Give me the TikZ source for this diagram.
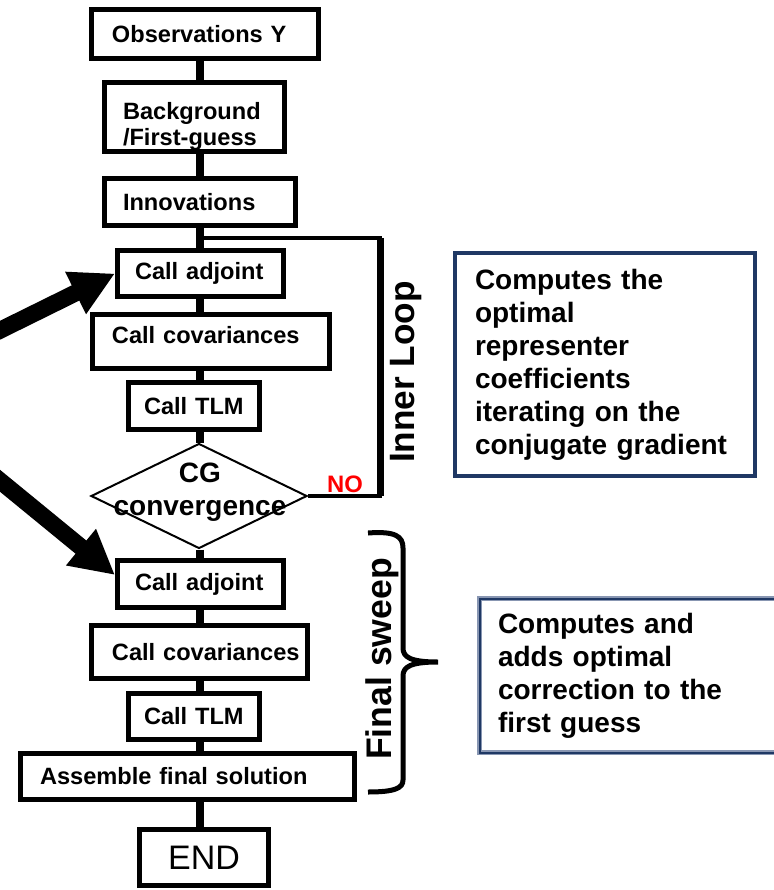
\documentclass[tikz,border=0pt]{standalone}
\usepackage{fontspec}
\setmainfont{Liberation Sans}
\usetikzlibrary{arrows.meta,shapes.geometric}

\definecolor{boxnavy}{RGB}{31,56,100}
\definecolor{boxsteel}{RGB}{136,150,178}

\begin{document}
\begin{tikzpicture}[x=0.5pt, y=-0.5pt,
        stepbox/.style={draw, line width=2.5pt, inner sep=0pt, align=left, font=\bfseries\fontsize{11.8}{14}\selectfont},
        decision/.style={diamond, draw, line width=1pt, inner sep=0pt, minimum width=108pt, minimum height=52.5pt},
        link/.style={line width=3.6pt},
        loopline/.style={line width=2.2pt},
        bigarrow/.style={line width=8.5pt, -{Triangle[length=22pt,width=22pt]}},
        notebox/.style={inner sep=0pt, align=left, font=\bfseries\fontsize{14}{16.5}\selectfont}]
        \path[use as bounding box, fill=white] (0,0) rectangle (774,890);
        \clip (0,0) rectangle (774,890);

        % Define the steps
        \node[stepbox, minimum width=113.5pt, minimum height=24.5pt, text width=93pt] (obs) at (205,34) {Observations Y};
        \node[stepbox, minimum width=90pt, minimum height=34.5pt, text width=71.5pt, text height=18pt, font=\bfseries\fontsize{11.8}{13}\selectfont] (bg) at (194.5,117) {Background\\/First-guess};
        \node[stepbox, minimum width=95.5pt, minimum height=23.5pt, text width=77pt] (innov) at (200,202) {Innovations};
        \node[stepbox, minimum width=83pt, minimum height=23pt, text width=65.5pt] (adj1) at (200.5,273.5) {Call adjoint};
        \node[stepbox, minimum width=118.5pt, minimum height=27pt, text width=99pt, text depth=6.5pt] (cov1) at (211,341.5) {Call covariances};
        \node[stepbox, minimum width=65.5pt, minimum height=23.5pt, text width=50pt] (tlm1) at (194,406) {Call TLM};
        \node[decision] (cg) at (199,496) {};
        \node[font=\bfseries\fontsize{14}{16.5}\selectfont, align=center] (cgtext) at (200,492) {CG\\convergence};
        \node[stepbox, minimum width=83pt, minimum height=23.5pt, text width=65.5pt] (adj2) at (200.5,584) {Call adjoint};
        \node[stepbox, minimum width=108pt, minimum height=26.5pt, text width=87.5pt] (cov2) at (199.5,652) {\mbox{Call covariances}};
        \node[stepbox, minimum width=65.5pt, minimum height=23pt, text width=50pt] (tlm2) at (194,716.5) {Call TLM};
        \node[stepbox, minimum width=167pt, minimum height=23pt, text width=147.5pt] (asm) at (187.5,776.5) {Assemble final solution};
        \node[stepbox, minimum width=64.5pt, minimum height=28pt, align=center, font=\fontsize{17}{20}\selectfont] (fin) at (204,857.5) {END};

        % Define the connections
        \coordinate (spine) at (200,0);
        \foreach \a/\b in {obs/bg, bg/innov, innov/adj1, adj1/cov1, cov1/tlm1, tlm1/cg, cg/adj2, adj2/cov2, cov2/tlm2, tlm2/asm, asm/fin}
            \draw[link] (spine |- \a.south) -- (spine |- \b.north);

        % Inner loop
        \coordinate (looptop) at (200,238);
        \coordinate (loopright) at (380,238);
        \draw[loopline] (looptop) -- (loopright) |- (cg.east);
        \draw[line width=3.5pt] (loopright) -- (loopright |- cg.east);
        \node[font=\bfseries\fontsize{11.9}{14}\selectfont, text=red] (no) at (345,484) {NO};
        \node[rotate=90, font=\bfseries\fontsize{17.6}{20}\selectfont] (inner) at (406,372) {Inner Loop};

        % Final sweep brace
        \draw[line width=2.5pt] (368,533) .. controls (395,531) and (403,536) .. (403,548) -- (403,648)
            .. controls (403,657) and (410,662) .. (438,662)
            .. controls (410,662) and (403,667) .. (403,676) -- (403,780)
            .. controls (403,788) and (395,792) .. (368,792);
        \node[rotate=90, font=\bfseries\fontsize{17.8}{20}\selectfont] (sweep) at (382,659) {Final sweep};

        % Big arrows from the left
        \coordinate (arrowA) at (-40,350);
        \coordinate (arrowB) at (-40,448);
        \draw[bigarrow] (arrowA) -- (adj1.west);
        \draw[bigarrow] (arrowB) -- ([yshift=4.5pt]adj2.west);

        % Notes
        \node[notebox, draw=boxnavy, line width=2pt, minimum width=150pt, minimum height=111.5pt, text width=130pt] (noteA) at (605,364.5) {Computes the\\optimal\\representer\\coefficients\\iterating on the\\conjugate gradient};
        \node[notebox, draw=boxsteel, double=boxnavy, double distance=1pt, line width=0.8pt, minimum width=160pt, minimum height=77pt, text width=141.5pt] (noteB) at (639.5,675.5) {Computes and\\adds optimal\\correction to the\\first guess};

    \end{tikzpicture}
\end{document}
